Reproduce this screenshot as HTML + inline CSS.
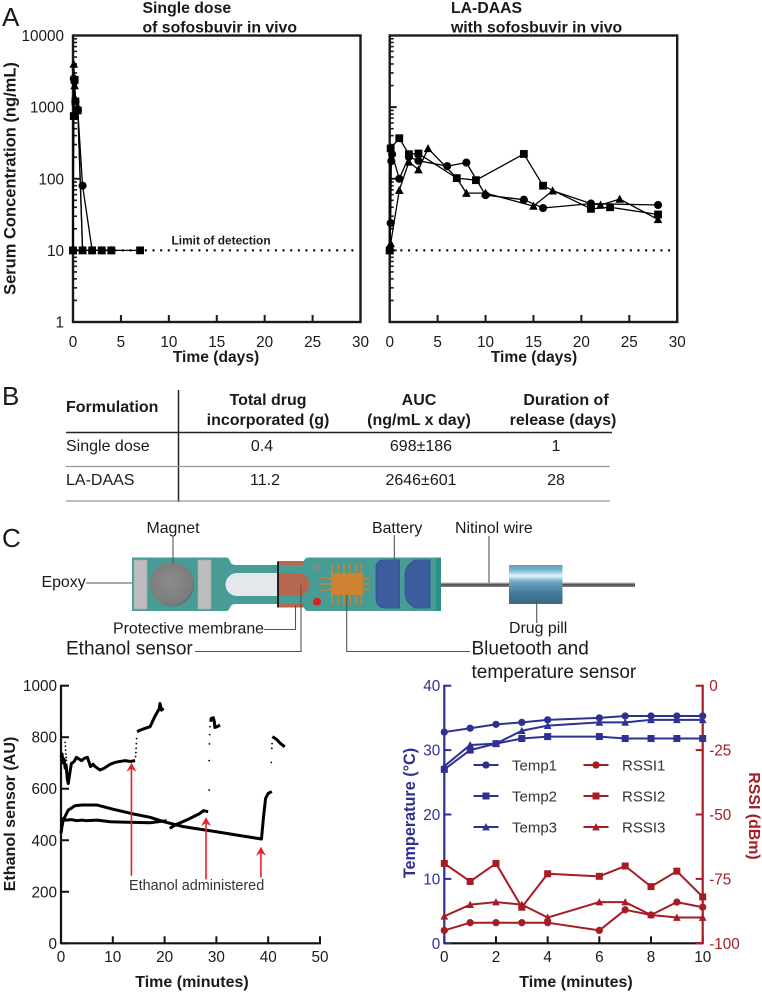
<!DOCTYPE html>
<html lang="en">
<head>
<meta charset="utf-8">
<title>Sofosbuvir release and ethanol sensor figure</title>
<style>
html,body{margin:0;padding:0;background:#fff;width:762px;height:994px;overflow:hidden}
svg{display:block;font-family:"Liberation Sans",Arial,sans-serif}
text{fill:#1a1a1a}
.b{font-weight:bold}
.tick{font-size:15.3px}
</style>
</head>
<body>
<svg id="fig" xmlns="http://www.w3.org/2000/svg" width="762" height="994" viewBox="0 0 762 994">
<defs>
<linearGradient id="pillGrad" x1="0" y1="0" x2="0" y2="1">
<stop offset="0" stop-color="#5b9dbf"/><stop offset=".14" stop-color="#7db8d2"/><stop offset=".28" stop-color="#e6f5fa"/><stop offset=".42" stop-color="#6ea9c6"/><stop offset=".72" stop-color="#41799a"/><stop offset="1" stop-color="#3b6a84"/>
</linearGradient>
<linearGradient id="wireGrad" x1="0" y1="0" x2="0" y2="1">
<stop offset="0" stop-color="#c8c8c8"/><stop offset=".5" stop-color="#4a4a4a"/><stop offset="1" stop-color="#8a8a8a"/>
</linearGradient>
<radialGradient id="magGrad" cx=".45" cy=".45" r=".6">
<stop offset="0" stop-color="#8b8b8b"/><stop offset=".85" stop-color="#7c7c7c"/><stop offset="1" stop-color="#5a5a5a"/>
</radialGradient>
</defs>

<g>
<text x="2" y="26" font-size="26" fill="#222">A</text>
<text x="2" y="405" font-size="26">B</text>
<text x="2" y="547" font-size="26">C</text>
</g>

<g font-size="15.8" class="b">
<text x="142.5" y="13">Single dose</text>
<text x="142.5" y="32.5">of sofosbuvir in vivo</text>
<text x="451" y="13">LA-DAAS</text>
<text x="451" y="32.5">with sofosbuvir in vivo</text>
</g>
<text class="b" font-size="16.5" transform="translate(15.5,178.5) rotate(-90)" text-anchor="middle">Serum Concentration (ng/mL)</text>
<text class="b" x="171.5" y="244.5" font-size="11.9" fill="#222">Limit of detection</text>
<text class="b" x="216" y="362" font-size="15.6" text-anchor="middle">Time (days)</text>
<text class="b" x="534" y="362" font-size="15.6" text-anchor="middle">Time (days)</text>

<g id="chartA1"></g>
<g id="chartA2"></g>

<g>
<line x1="178.5" y1="390" x2="178.5" y2="502" stroke="#222" stroke-width="1.5"/>
<line x1="66" y1="432.5" x2="612" y2="432.5" stroke="#222" stroke-width="1.5"/>
<line x1="66" y1="466.5" x2="610" y2="466.5" stroke="#999" stroke-width="1.2"/>
<line x1="66" y1="501" x2="610" y2="501" stroke="#999" stroke-width="1.2"/>
<g class="b" font-size="16" text-anchor="middle">
<text x="66" y="412" text-anchor="start">Formulation</text>
<text x="268" y="405">Total drug</text>
<text x="268" y="425">incorporated (g)</text>
<text x="419" y="405">AUC</text>
<text x="419" y="425">(ng/mL x day)</text>
<text x="566" y="405">Duration of</text>
<text x="563" y="425">release (days)</text>
</g>
<g font-size="16" text-anchor="middle" style="fill:#333">
<text x="66" y="451" text-anchor="start">Single dose</text>
<text x="262" y="451">0.4</text>
<text x="421" y="451">698±186</text>
<text x="556" y="451">1</text>
<text x="66" y="485" text-anchor="start">LA-DAAS</text>
<text x="265" y="485">11.2</text>
<text x="421" y="485">2646±601</text>
<text x="556" y="485">28</text>
</g>
</g>

<g>
<rect x="440" y="582.5" width="195" height="4.5" fill="url(#wireGrad)"/>
<path d="M132 557.5H226Q229 557.5 230 561Q231 565 236 565H300Q303 565 304 561Q305 557.5 308 557.5H441V611H308Q305 611 304 607.5Q303 604 300 604H236Q231 604 230 607.5Q229 611 226 611H132Z" fill="#479d95"/>
<rect x="436" y="558" width="5" height="53" fill="#2f8f86"/>
<rect x="134" y="560" width="13" height="49" fill="#bdbdbd" stroke="#a8a8a8" stroke-width=".7"/>
<rect x="198" y="560" width="13" height="49" fill="#bdbdbd" stroke="#a8a8a8" stroke-width=".7"/>
<circle cx="172" cy="584.3" r="22" fill="url(#magGrad)"/>
<path d="M278 573H237A11.500 11.500 0 0 0 237 596H278Z" fill="#e4e8ec"/>
<rect x="278" y="561" width="26" height="4" fill="#b5674f"/>
<rect x="278" y="604" width="26" height="3.500" fill="#b5674f"/>
<path d="M278 573H298A11.500 11.500 0 0 1 298 596H278Z" fill="#b5674f"/>
<line x1="278" y1="561.500" x2="278" y2="607.500" stroke="#111" stroke-width="1.800"/>
<circle cx="316.700" cy="566.700" r="3.500" fill="#7d8a8a"/>
<circle cx="317" cy="601.700" r="4" fill="#d81f26"/>
<g stroke="#c9812f" stroke-width="1.600">
<path d="M319 578H370M319 584H370M319 590H370"/>
<path d="M332 564V605M338 564V605M344 564V605M350 564V605M356 564V605M361 564V605"/>
</g>
<rect x="331" y="573" width="32" height="22" fill="#cc8230"/>
<path d="M384 560H399.500V608H386Q376 608 376 598V568Q376 560 384 560Z" fill="#3d5c9e" stroke="#33508e" stroke-width=".8"/>
<path d="M415 560H430V608H415Q405 602 405 594V574Q405 566 415 560Z" fill="#3d5c9e" stroke="#33508e" stroke-width=".8"/>
<rect x="509" y="565" width="53.500" height="39" fill="url(#pillGrad)"/>
<g fill="none" stroke="#555" stroke-width="1.100">
<path d="M173 536V563"/>
<path d="M86 583H132"/>
<path d="M264 629.500H295.500V605"/>
<path d="M195 651.500H301V585"/>
<path d="M470 651.500H346.700V595"/>
<path d="M394.300 535V560"/>
<path d="M489 536V583"/>
<path d="M536.700 600V623"/>
</g>
<g font-size="15.900">
<text x="173" y="533" text-anchor="middle">Magnet</text>
<text x="41.500" y="587">Epoxy</text>
<text x="113" y="633.500">Protective membrane</text>
<text x="372" y="533">Battery</text>
<text x="455" y="533">Nitinol wire</text>
<text x="509" y="633">Drug pill</text>
</g>
<g font-size="19">
<text x="66" y="654.500">Ethanol sensor</text>
<text x="471.500" y="654.500">Bluetooth and</text>
<text x="471.500" y="678">temperature sensor</text>
</g>
</g>

<text class="b" font-size="16.100" transform="translate(15,814) rotate(-90)" text-anchor="middle">Ethanol sensor  (AU)</text>
<text class="b" x="192" y="987" font-size="16" text-anchor="middle">Time (minutes)</text>
<text class="b" x="576" y="987" font-size="16" text-anchor="middle">Time (minutes)</text>
<text class="b" font-size="16.200" transform="translate(415,813) rotate(-90)" text-anchor="middle" style="fill:#2e3192">Temperature (°C)</text>
<text class="b" font-size="15.900" transform="translate(749,816) rotate(90)" text-anchor="middle" style="fill:#a51c24">RSSI (dBm)</text>

<g id="chartEth"></g>
<g id="chartTemp"></g>
</svg>

<script>
// ---- Panel A: shared ticks ----
const dayTicks = [0, 5, 10, 15, 20, 25, 30];
const concTicks = [1, 10, 100, 1000, 10000];
const detectionLimit = 10;

// ---- Panel A, single dose ----
const singleCircleDays = [0, 0.08, 0.17, 0.25, 0.5, 1, 2, 3, 4];
const singleCircleConc = [10, 2500, 2300, 1200, 900, 80, 10, 10, 10];
const singleTriangleDays = [0, 0.08, 0.17, 0.25, 0.5, 1, 2, 3, 4];
const singleTriangleConc = [10, 4000, 2000, 1300, 1000, 10, 10, 10, 10];
const singleSquareDays = [0, 0.08, 0.17, 0.25, 0.5, 1, 2, 3, 4, 7];
const singleSquareConc = [10, 750, 2400, 1200, 900, 10, 10, 10, 10, 10];

// ---- Panel A, LA-DAAS ----
const laCircleDays = [0, 0.1, 0.17, 0.25, 1, 2, 3, 6, 8, 10, 14, 16, 21, 28];
const laCircleConc = [10, 24, 176, 220, 100, 202, 178, 150, 168, 59, 51, 39, 45, 43];
const laTriangleDays = [0, 0.1, 1, 2, 3, 4, 7, 8, 10, 15, 17, 21, 22, 24, 28];
const laTriangleConc = [10, 12.5, 69, 172, 134, 265, 102, 63, 63, 41.5, 68, 45, 43, 52, 27];
const laSquareDays = [0, 0.1, 1, 2, 3, 7, 9, 14, 16, 21, 23, 28];
const laSquareConc = [10, 265, 368, 220, 225, 102, 95.5, 222, 80, 38, 40, 31.7];

// ---- Panel C, ethanol sensor ----
const ethXTicks = [0, 10, 20, 30, 40, 50];
const ethYTicks = [0, 200, 400, 600, 800, 1000];
const traceATime = [0, 0.2, 0.4, 0.6, 0.8, 1, 1.2, 1.4, 1.7, 2, 2.5, 3, 3.5, 4, 4.5, 5.1, 5.7, 6.2, 6.6, 7.5, 8.2, 8.8, 9.5, 10.4, 11.4, 12.4, 13.4, 14.3];
const traceAValue = [724, 735, 700, 715, 680, 690, 640, 620, 660, 698, 705, 722, 715, 709, 718, 722, 686, 695, 686, 673, 678, 686, 695, 702, 706, 709, 706, 709];
const traceBTime = [14.7, 15.1, 15.9, 17.2, 18.1, 19, 19.1, 19.4, 19.8];
const traceBValue = [821, 826, 832, 841, 880, 912, 931, 905, 912];
const traceCTime = [0, 1, 2, 3, 4, 5, 7, 9.5, 13, 17.2, 20.4];
const traceCValue = [485, 478, 480, 476, 478, 476, 478, 472, 470, 468, 476];
const traceDTime = [21, 22, 24.3, 26.8, 27.5, 28.4];
const traceDValue = [446, 459, 479, 504, 515, 511];
const traceETime = [0, 0.2, 0.45, 1.4, 2.7, 4, 6.9, 10.1, 14, 17.2, 20, 23.6, 30, 34.6, 38.7, 39.1, 39.5, 40, 40.7];
const traceEValue = [427, 455, 479, 517, 534, 537, 537, 520, 502, 489, 471, 453, 433, 418, 405, 492, 563, 582, 589];
const traceFTime = [28.9, 29, 29.4, 29.6, 29.7, 30, 30.7];
const traceFValue = [860, 873, 876, 860, 838, 840, 847];
const traceGTime = [40.8, 41.6, 42.4, 43.2];
const traceGValue = [802, 792, 775, 763];
const dotsTime = [0.8, 0.85, 0.9, 0.95, 1, 1.05, 1.1, 14.4, 14.45, 14.5, 14.55, 14.6, 28.6, 28.6, 28.65, 28.7, 28.75, 40.6, 40.7, 40.75];
const dotsValue = [780, 765, 750, 735, 722, 710, 695, 725, 740, 757, 775, 795, 595, 709, 774, 810, 841, 702, 757, 775];
const arrowTimes = [13.6, 28, 38.6];
const arrowTails = [262, 248, 255];
const arrowHeads = [701, 490, 375];

// ---- Panel C, temperature and RSSI ----
const tempXTicks = [0, 2, 4, 6, 8, 10];
const tempYTicks = [0, 10, 20, 30, 40];
const rssiYTicks = [0, -25, -50, -75, -100];
const sampleMinutes = [0, 1, 2, 3, 4, 6, 7, 8, 9, 10];
const temp1 = [32.8, 33.4, 34, 34.3, 34.7, 35, 35.3, 35.3, 35.3, 35.3];
const temp2 = [27, 30, 31, 31.8, 32.1, 32.1, 31.8, 31.8, 31.8, 31.8];
const temp3 = [27.5, 30.8, 31, 33, 33.8, 34.3, 34.3, 34.7, 34.7, 34.7];
const rssi1 = [-95, -92, -92, -92, -92, -95, -87, -89, -84, -86];
const rssi2 = [-69, -76, -69, -86, -73, -74, -70, -78, -72, -82];
const rssi3 = [-89.5, -85, -84, -85, -90, -84, -84, -89, -90, -90];
const legendNames = ['Temp1', 'Temp2', 'Temp3', 'RSSI1', 'RSSI2', 'RSSI3'];

const NS = 'http://www.w3.org/2000/svg';
function make(tag, attrs, parent) {
  const e = document.createElementNS(NS, tag);
  for (const k in attrs) e.setAttribute(k, attrs[k]);
  parent.appendChild(e);
  return e;
}
function marker(shape, x, y, s, color, parent) {
  let m;
  if (shape === 'circle') {
    m = make('circle', {cx: x, cy: y, r: s * 0.52, fill: color}, parent);
  } else if (shape === 'square') {
    m = make('rect', {x: x - s / 2, y: y - s / 2, width: s, height: s, fill: color}, parent);
  } else {
    const h = s * 0.95;
    m = make('polygon', {points: (x - s * 0.55) + ',' + (y + h * 0.5) + ' ' + (x + s * 0.55) + ',' + (y + h * 0.5) + ' ' + x + ',' + (y - h * 0.6), fill: color}, parent);
  }
  
  
  return m;
}
function series(xs, ys, xf, yf, shape, color, lw, s, parent, name) {
  const pts = xs.map((t, i) => xf(t) + ',' + yf(ys[i])).join(' ');
  const line = make('polyline', {points: pts, fill: 'none', stroke: color, 'stroke-width': lw, 'stroke-linejoin': 'round'}, parent);
  
  
  if (shape) xs.forEach((t, i) => marker(shape, xf(t), yf(ys[i]), s, color, parent));
}
function tickLabel(str, x, y, anchor, color, parent) {
  const t = make('text', {x: x, y: y, 'text-anchor': anchor, class: 'tick'}, parent);
  if (color) t.style.fill = color;
  t.textContent = str;
  
  
  return t;
}
function seg(x1, y1, x2, y2, color, w, parent) {
  const l = make('line', {x1: x1, y1: y1, x2: x2, y2: y2, stroke: color, 'stroke-width': w}, parent);
  
  
  return l;
}

// ---- Log panels ----
function logPanel(host, left, showY, sets) {
  const right = left + 287.5, top = 35.5, bottom = 322;
  const g = document.getElementById(host);
  const xf = d => left + d * (right - left) / 30;
  const yf = v => bottom - Math.log10(v) * (bottom - top) / 4;
  const frame = make('rect', {x: left, y: top, width: right - left, height: bottom - top, fill: 'none', stroke: '#1a1a1a', 'stroke-width': 2.4}, g);
  
  
  dayTicks.forEach(d => {
    seg(xf(d), bottom, xf(d), bottom - 7, '#1a1a1a', 2, g);
    tickLabel(String(d), xf(d), 347, 'middle', null, g);
  });
  concTicks.forEach((c, i) => {
    if (showY) tickLabel(String(c), left - 9, yf(c) + 5.5, 'end', null, g);
    if (i < concTicks.length - 1) {
      seg(left, yf(c), left + 7, yf(c), '#1a1a1a', 2, g);
      [2, 3, 4, 5, 6, 7, 8, 9].forEach(mult => seg(left, yf(c * mult), left + 4, yf(c * mult), '#1a1a1a', 1.6, g));
    }
  });
  const lod = make('line', {x1: left + 4, y1: yf(detectionLimit), x2: right - 2, y2: yf(detectionLimit), stroke: '#111', 'stroke-width': 2.4, 'stroke-linecap': 'round', 'stroke-dasharray': '0 7.65'}, g);
  
  
  sets.forEach(st => series(st[0], st[1], xf, yf, st[2], '#000', 1.3, 7.8, g, st[2] + '-series'));
}
logPanel('chartA1', 73, true, [
  [singleTriangleDays, singleTriangleConc, 'triangle'],
  [singleCircleDays, singleCircleConc, 'circle'],
  [singleSquareDays, singleSquareConc, 'square']
]);
logPanel('chartA2', 389.7, false, [
  [laCircleDays, laCircleConc, 'circle'],
  [laTriangleDays, laTriangleConc, 'triangle'],
  [laSquareDays, laSquareConc, 'square']
]);

// ---- Ethanol chart ----
(function () {
  const g = document.getElementById('chartEth');
  const x0 = 61, x1 = 320, y0 = 943.3, y1 = 685.7;
  const xf = t => x0 + t * (x1 - x0) / 50;
  const yf = v => y0 - v * (y0 - y1) / 1000;
  seg(x0, y1 - 1, x0, y0 + 1, '#111', 2.2, g);
  seg(x0, y0, x1 + 1, y0, '#111', 2.2, g);
  ethYTicks.forEach(v => {
    seg(x0, yf(v), x0 + 8, yf(v), '#111', 2, g);
    tickLabel(String(v), x0 - 4, yf(v) + 5.5, 'end', null, g);
  });
  ethXTicks.forEach(t => {
    seg(xf(t), y0, xf(t), y0 - 7, '#111', 2, g);
    tickLabel(String(t), xf(t), 962, 'middle', null, g);
  });
  [[traceATime, traceAValue], [traceBTime, traceBValue], [traceCTime, traceCValue], [traceDTime, traceDValue], [traceETime, traceEValue], [traceFTime, traceFValue], [traceGTime, traceGValue]].forEach(p => {
    series(p[0], p[1], xf, yf, null, '#000', 3, 0, g, 'ethanol-trace');
  });
  dotsTime.forEach((t, i) => {
    const d = make('circle', {cx: xf(t), cy: yf(dotsValue[i]), r: 0.9, fill: '#000'}, g);
    
    
  });
  arrowTimes.forEach((t, i) => {
    const x = xf(t), yt = yf(arrowTails[i]), yh = yf(arrowHeads[i]);
    const shaft = make('line', {x1: x, y1: yt, x2: x, y2: yh + 4, stroke: '#e8202e', 'stroke-width': 1.6}, g);
    
    
    const head = make('polygon', {points: (x - 5) + ',' + (yh + 9) + ' ' + x + ',' + yh + ' ' + (x + 5) + ',' + (yh + 9) + ' ' + x + ',' + (yh + 6), fill: '#e8202e'}, g);
    
    
  });
  const note = make('text', {x: 129, y: 890, 'font-size': 14.4}, g);
  note.style.fill = '#333';
  note.textContent = 'Ethanol administered';
  
  
})();

// ---- Temperature chart ----
(function () {
  const g = document.getElementById('chartTemp');
  const blue = '#2e3192', red = '#a51c24';
  const x0 = 444.3, x1 = 702.7, y0 = 943.3, y1 = 685.7;
  const xf = t => x0 + t * (x1 - x0) / 10;
  const yT = v => y0 - v * (y0 - y1) / 40;
  const yR = v => y0 - (v + 100) * (y0 - y1) / 100;
  seg(x0, y0, x1, y0, '#111', 2.2, g);
  tempXTicks.forEach(t => {
    seg(xf(t), y0, xf(t), y0 - 7, '#111', 2, g);
    tickLabel(String(t), xf(t), 962, 'middle', null, g);
  });
  seg(x0, y1 - 1, x0, y0 + 1, blue, 2.2, g);
  seg(x1, y1 - 1, x1, y0 + 1, red, 2.2, g);
  seg(x1 - 7, y0, x1, y0, red, 2.2, g);
  tempYTicks.forEach(v => {
    seg(x0, yT(v), x0 + 7, yT(v), blue, 2, g);
    tickLabel(String(v), x0 - 4, yT(v) + 5.5, 'end', blue, g);
  });
  rssiYTicks.forEach(v => {
    seg(x1 - 7, yR(v), x1, yR(v), red, 2, g);
    tickLabel(String(v), x1 + 6.5, yR(v) + 5.5, 'start', red, g);
  });
  series(sampleMinutes, temp1, xf, yT, 'circle', blue, 2, 7, g, 'temp1-series');
  series(sampleMinutes, temp2, xf, yT, 'square', blue, 2, 7, g, 'temp2-series');
  series(sampleMinutes, temp3, xf, yT, 'triangle', blue, 2, 7, g, 'temp3-series');
  series(sampleMinutes, rssi1, xf, yR, 'circle', red, 2, 7, g, 'rssi1-series');
  series(sampleMinutes, rssi2, xf, yR, 'square', red, 2, 7, g, 'rssi2-series');
  series(sampleMinutes, rssi3, xf, yR, 'triangle', red, 2, 7, g, 'rssi3-series');
  const shapes = ['circle', 'square', 'triangle'];
  legendNames.forEach((n, i) => {
    const col = i < 3 ? 0 : 1;
    const row = i % 3;
    const lx = col ? 583.5 : 473.5;
    const ly = 765 + row * 31;
    const c = col ? red : blue;
    const l = make('line', {x1: lx, y1: ly, x2: lx + 25, y2: ly, stroke: c, 'stroke-width': 2}, g);
    
    
    marker(shapes[row], lx + 12.5, ly, 7, c, g);
    const t = make('text', {x: lx + 38.5, y: ly + 5.5, 'font-size': 15}, g);
    t.style.fill = '#333';
    t.textContent = n;
    
    
  });
})();
</script>
</body>
</html>
